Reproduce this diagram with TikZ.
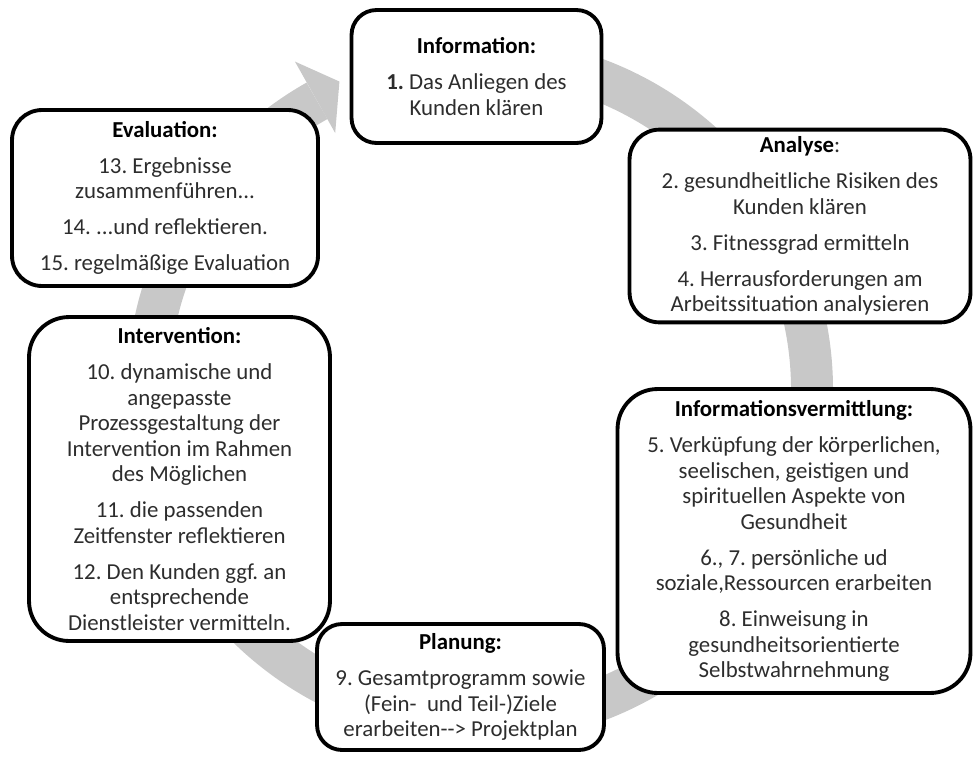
\documentclass[tikz,border=0pt]{standalone}
\usepackage{fontspec}
\setmainfont{Carlito}
\usepackage{xcolor}
\usepackage{tikz}
\usetikzlibrary{calc}
\definecolor{ringgray}{RGB}{200,200,200}
\definecolor{textgray}{RGB}{45,45,45}
\newcommand{\phasehead}[1]{\textbf{\color{black}#1}}
\frenchspacing

\begin{document}
\begin{tikzpicture}[
  x=0.02cm, y=-0.02cm,
  every node/.style={font=\fontsize{13pt}{14.5pt}\selectfont},
  phase/.style={rectangle, rounded corners=0.6cm, draw=black, line width=2.2pt,
    fill=white, align=center, text=textgray, inner sep=4pt}
]
  \useasboundingbox (0,0) rectangle (977,758);
  \coordinate (hub) at (480,390);

  % gray cycle arrow behind the boxes
  \draw[ringgray, line width=0.84cm] ($(hub)+(-85:332)$)
      arc[start angle=-85, end angle=240.6, radius=332];
  \fill[ringgray] ($(hub)+(240.6:377)$) -- ($(hub)+(245.5:339)$)
      -- ($(hub)+(240.6:295)$) -- cycle;

  \node[phase, minimum width=5.0cm, minimum height=2.66cm, rounded corners=0.5cm] (info) at (476.5,76.5)
      {\phasehead{Information:}\\[6pt] \textbf{1.} Das Anliegen des\\ Kunden klären};

  \node[phase, minimum width=6.82cm, minimum height=3.66cm] (analyse) at (800,226)
      {\phasehead{Analyse}:\\[6pt] 2. gesundheitliche Risiken des\\ Kunden klären\\[6pt]
       3. Fitnessgrad ermitteln\\[6pt] 4. Herrausforderungen am\\ Arbeitssituation analysieren};

  \node[phase, minimum width=7.06cm, minimum height=6.08cm, rounded corners=0.8cm] (vermittlung) at (794,541)
      {\phasehead{Informationsvermittlung:}\\[6pt] 5. Verküpfung der körperlichen,\\
       seelischen, geistigen und\\ spirituellen Aspekte von\\ Gesundheit\\[6pt]
       6., 7. persönliche ud\\ soziale,Ressourcen erarbeiten\\[6pt]
       8. Einweisung in\\ gesundheitsorientierte\\ Selbstwahrnehmung};

  \node[phase, minimum width=6.02cm, minimum height=6.48cm, rounded corners=0.8cm] (intervention) at (179.5,479)
      {\phasehead{Intervention:}\\[6pt] 10. dynamische und\\ angepasste\\ Prozessgestaltung der\\
       Intervention im Rahmen\\ des Möglichen\\[6pt]
       11. die passenden\\ Zeitfenster reflektieren\\[6pt]
       12. Den Kunden ggf. an\\ entsprechende\\ Dienstleister vermitteln.};

  \node[phase, minimum width=5.74cm, minimum height=2.52cm, rounded corners=0.5cm] (planung) at (460.5,687)
      {\phasehead{Planung:}\\[6pt] 9. Gesamtprogramm sowie\\ (Fein-~ und Teil-)Ziele\\ erarbeiten-{}-> Projektplan};

  \node[phase, minimum width=6.12cm, minimum height=3.52cm] (evaluation) at (165,198)
      {\phasehead{Evaluation:}\\[6pt] 13. Ergebnisse\\ zusammenführen...\\[6pt]
       14. ...und reflektieren.\\[6pt] 15. regelmäßige Evaluation};
\end{tikzpicture}
\end{document}
